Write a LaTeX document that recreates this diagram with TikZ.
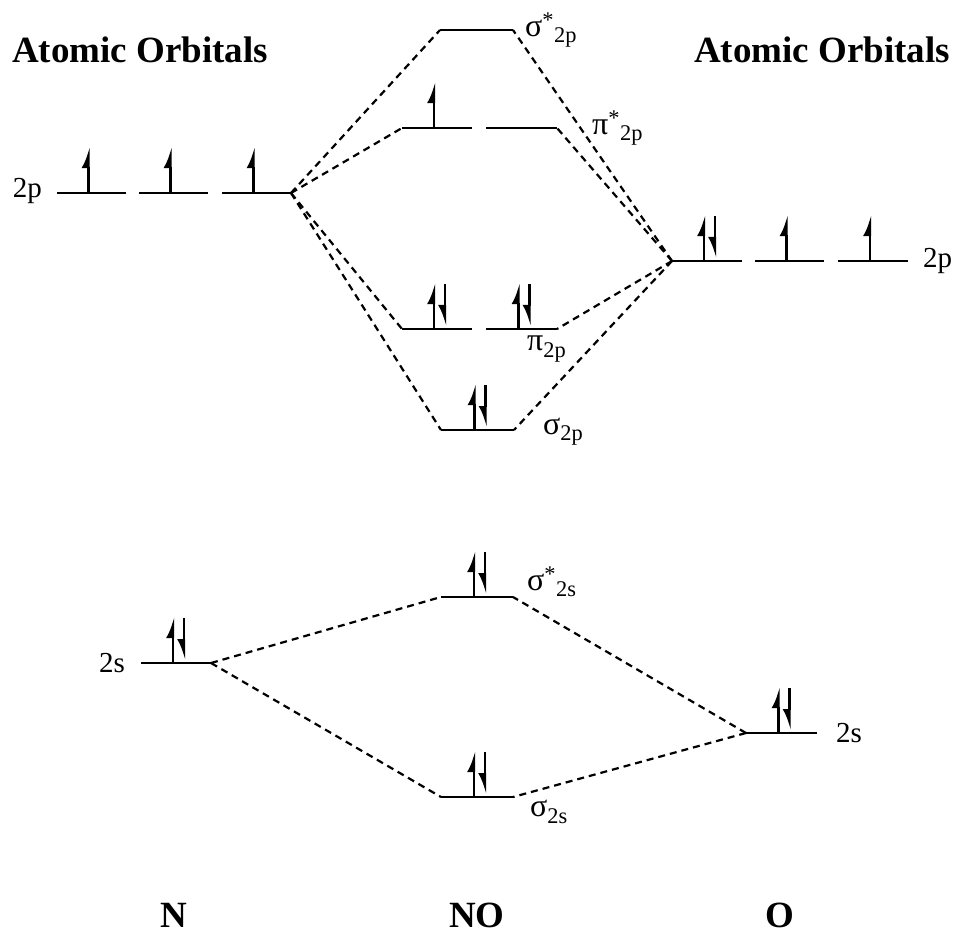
\documentclass[tikz,border=0pt]{standalone}
\usepackage{fontspec}
\setmainfont{Liberation Serif}
\usetikzlibrary{arrows.meta,calc}

\begin{document}
\begin{tikzpicture}[
  x=1pt,y=-1pt,
  lvl/.style={line width=2.4pt},
  link/.style={line width=2.2pt,dash pattern=on 7pt off 5pt},
  eup/.style={line width=2.2pt,-{Latex[left,length=17pt,width=14pt]}},
  edn/.style={line width=2.2pt,-{Latex[right,length=17pt,width=14pt]}},
  lab/.style={font=\fontsize{29}{31}\selectfont,inner sep=0pt},
  mo/.style={font=\fontsize{32}{34}\selectfont,inner sep=0pt},
  head/.style={font=\bfseries\fontsize{37}{40}\selectfont,inner sep=0pt},
]
\useasboundingbox (0,0) rectangle (956,935);
% energy levels
\foreach \n/\xa/\xb/\y in {n2pa/57/126/193,n2pb/139/208/193,n2pc/222/291/193,
  o2pa/672/742/261,o2pb/755/824/261,o2pc/838/908/261,
  sgs2p/440/513/30,pis2pa/402/472/128,pis2pb/486/557/128,
  pi2pa/402/472/329,pi2pb/486/557/329,sg2p/441/514/430,
  n2s/141/211/663,sgs2s/441/513/597,sg2s/441/513/797,o2s/746/817/733}{
  \coordinate (\n-l) at (\xa,\y);
  \coordinate (\n-r) at (\xb,\y);
  \draw[lvl] (\n-l) -- (\n-r);
}
% electrons
\foreach \n in {n2pa,n2pb,n2pc,o2pb,o2pc,pis2pa}
  \draw[eup] ($(\n-l)!0.5!(\n-r)+(-3,0)$) -- ++(0,-46);
\foreach \n in {o2pa,pi2pa,pi2pb,sg2p,n2s,sgs2s,sg2s,o2s}{
  \draw[eup] ($(\n-l)!0.5!(\n-r)+(-3,0)$) -- ++(0,-46);
  \draw[edn] ($(\n-l)!0.5!(\n-r)+(8,-45)$) -- ++(0,42);
}
% correlation lines
\foreach \m in {sgs2p,pis2pa,pi2pa,sg2p}
  \draw[link] (n2pc-r) -- (\m-l);
\foreach \m in {sgs2p,pis2pb,pi2pb,sg2p}
  \draw[link] (o2pa-l) -- (\m-r);
\draw[link] (n2s-r) -- (sgs2s-l);
\draw[link] (n2s-r) -- (sg2s-l);
\draw[link] (o2s-l) -- (sgs2s-r);
\draw[link] (o2s-l) -- (sg2s-r);
% labels
\node[lab,anchor=east] (ln2p) at (42,191) {2p};
\node[lab,anchor=west] (lo2p) at (923,261) {2p};
\node[lab,anchor=east] (ln2s) at (125,663) {2s};
\node[lab,anchor=west] (lo2s) at (836,733) {2s};
\node[mo,anchor=west] (lsgs2p) at (525,30) {σ\textsuperscript{*}\textsubscript{2p}};
\node[mo,anchor=west] (lpis2p) at (592,128) {π\textsuperscript{*}\textsubscript{2p}};
\node[mo,anchor=west] (lpi2p) at (527,349) {π\textsubscript{2p}};
\node[mo,anchor=west] (lsg2p) at (543,432) {σ\textsubscript{2p}};
\node[mo,anchor=west] (lsgs2s) at (527,582) {σ\textsuperscript{*}\textsubscript{2s}};
\node[mo,anchor=west] (lsg2s) at (530,812) {σ\textsubscript{2s}};
\node[head] (tl) at (140,50) {Atomic Orbitals};
\node[head] (tr) at (822,50) {Atomic Orbitals};
\node[head] (bn) at (174,915) {N};
\node[head] (bno) at (477,915) {NO};
\node[head] (bo) at (780,915) {O};
\end{tikzpicture}
\end{document}
